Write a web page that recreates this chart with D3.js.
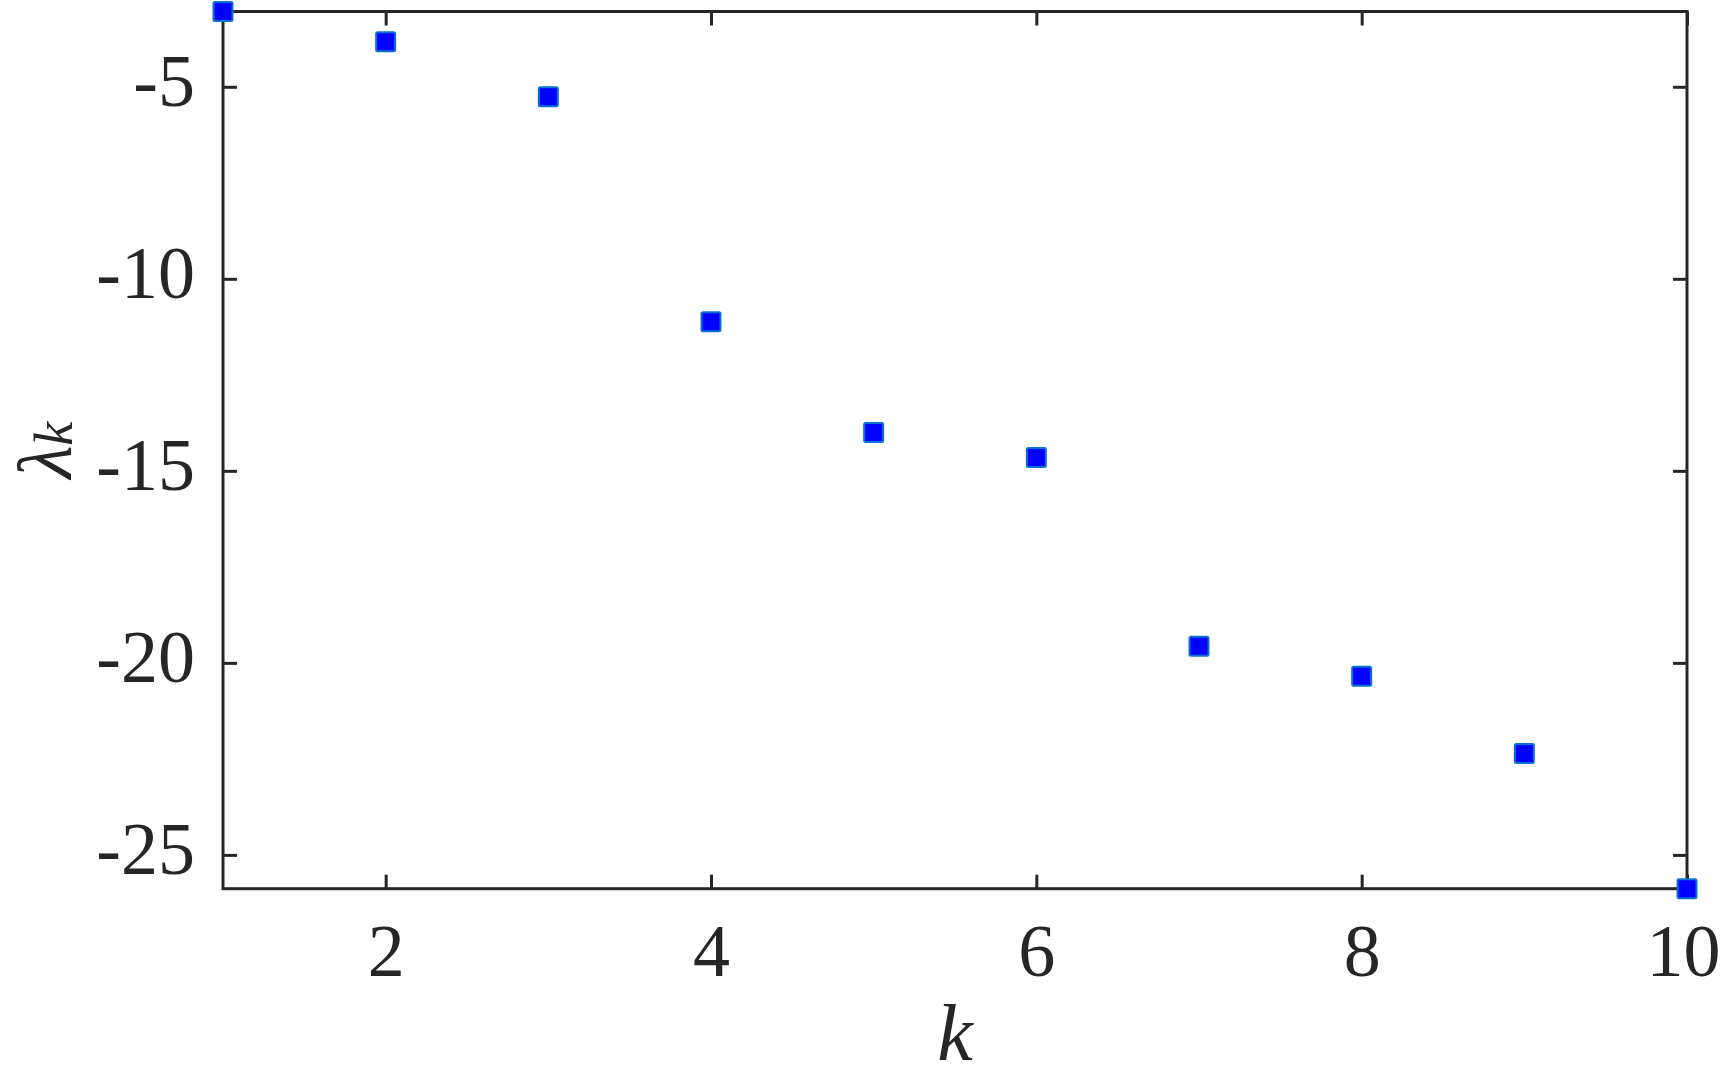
<!DOCTYPE html>
<html>
<head>
<meta charset="utf-8">
<script src="https://cdn.jsdelivr.net/npm/d3@7"></script>
<style>
  html, body { margin: 0; padding: 0; background: #ffffff; }
  svg { display: block; }
</style>
</head>
<body>
<svg id="chart" width="1722" height="1076"></svg>
<script>
// ---- data ----
const kValues = [1, 2, 3, 4, 5, 6, 7, 8, 9, 10];
const lambdaValues = [-3.04, -3.83, -5.26, -11.12, -14.0, -14.65, -19.57, -20.35, -22.36, -25.88];
const xTicks = [2, 4, 6, 8, 10];
const yTicks = [-25, -20, -15, -10, -5];
const xLabel = "k";
const yLabelMain = "λ";
const yLabelSub = "k";

(function () {
// ---- layout ----
const plotL = 223, plotR = 1687, plotT = 11.5, plotB = 888.7;
const axisColor = "#262626";
const fontFamily = "'Liberation Serif', 'DejaVu Serif', serif";
const tickLen = 14;

const svg = d3.select("#chart");

const x = d3.scaleLinear().domain(d3.extent(kValues)).range([plotL, plotR]);
const y = d3.scaleLinear().domain([d3.max(lambdaValues), d3.min(lambdaValues)]).range([plotT, plotB]);

function styleAxis(g, showLabels) {
  g.select(".domain").remove();
  g.selectAll(".tick line").attr("stroke", axisColor).attr("stroke-width", 3);
  if (!showLabels) g.selectAll(".tick text").remove();
}

// bottom axis
const gB = svg.append("g").attr("transform", `translate(0,${plotB})`)
  .call(d3.axisBottom(x).tickValues(xTicks).tickSizeInner(-tickLen).tickSizeOuter(0).tickPadding(0).tickFormat(d => String(d)));
styleAxis(gB, true);
gB.selectAll(".tick text")
  .attr("y", 87).attr("dy", null)
  .attr("dx", (d, i, n) => i === n.length - 1 ? -4 : 0)
  .attr("fill", axisColor).attr("font-family", fontFamily).attr("font-size", 74);

// top axis (ticks only)
const gT = svg.append("g").attr("transform", `translate(0,${plotT})`)
  .call(d3.axisTop(x).tickValues(xTicks).tickSizeInner(-tickLen).tickSizeOuter(0));
styleAxis(gT, false);

// left axis
const gL = svg.append("g").attr("transform", `translate(${plotL},0)`)
  .call(d3.axisLeft(y).tickValues(yTicks).tickSizeInner(-tickLen).tickSizeOuter(0).tickPadding(0).tickFormat(d => String(d)));
styleAxis(gL, true);
gL.selectAll(".tick text")
  .attr("x", -28).attr("dy", null).attr("y", 19)
  .attr("text-anchor", "end")
  .attr("fill", axisColor).attr("font-family", fontFamily).attr("font-size", 74);

// right axis (ticks only)
const gR = svg.append("g").attr("transform", `translate(${plotR},0)`)
  .call(d3.axisRight(y).tickValues(yTicks).tickSizeInner(-tickLen).tickSizeOuter(0));
styleAxis(gR, false);

// box
svg.append("rect")
  .attr("x", plotL).attr("y", plotT)
  .attr("width", plotR - plotL).attr("height", plotB - plotT)
  .attr("fill", "none").attr("stroke", axisColor).attr("stroke-width", 3);

// markers
const ms = 19;
svg.append("g").selectAll("rect.pt")
  .data(kValues.map((k, i) => ({ k, v: lambdaValues[i] })))
  .join("rect")
  .attr("class", "pt")
  .attr("x", d => x(d.k) - ms / 2)
  .attr("y", d => y(d.v) - ms / 2)
  .attr("width", ms).attr("height", ms)
  .attr("rx", 1.5)
  .attr("fill", "#0000ff")
  .attr("stroke", "#0a72d0")
  .attr("stroke-width", 2);

// x label
svg.append("text")
  .attr("x", (plotL + plotR) / 2).attr("y", 1060)
  .attr("text-anchor", "middle")
  .attr("font-family", fontFamily).attr("font-style", "italic")
  .attr("font-size", 80).attr("fill", axisColor)
  .text(xLabel);

// y label
const yl = svg.append("text")
  .attr("transform", `translate(71,${(plotT + plotB) / 2}) rotate(-90)`)
  .attr("text-anchor", "middle")
  .attr("font-family", fontFamily).attr("font-style", "italic")
  .attr("font-size", 76).attr("fill", axisColor);
yl.append("tspan").text(yLabelMain);
yl.append("tspan").attr("font-size", 54).attr("dy", 1).text(yLabelSub);
})();
</script>
</body>
</html>
